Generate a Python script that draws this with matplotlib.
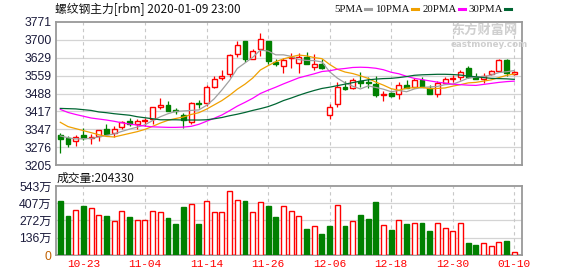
import matplotlib
matplotlib.use("Agg")
import matplotlib.pyplot as plt
import numpy as np

# trading days shown on the chart
dates = ['10-18', '10-21', '10-22', '10-23', '10-24', '10-25', '10-28', '10-29', '10-30', '10-31',
         '11-01', '11-04', '11-05', '11-06', '11-07', '11-08', '11-11', '11-12', '11-13', '11-14',
         '11-15', '11-18', '11-19', '11-20', '11-21', '11-22', '11-25', '11-26', '11-27', '11-28',
         '11-29', '12-02', '12-03', '12-04', '12-05', '12-06', '12-09', '12-10', '12-11', '12-12',
         '12-13', '12-16', '12-17', '12-18', '12-19', '12-20', '12-23', '12-24', '12-25', '12-26',
         '12-27', '12-30', '12-31', '01-02', '01-03', '01-06', '01-07', '01-08', '01-09', '01-10']

opens = [3322, 3310, 3299, 3324, 3310, 3321, 3347, 3333, 3354, 3379,
         3366, 3378, 3387, 3433, 3442, 3422, 3403, 3376, 3449, 3449,
         3515, 3549, 3564, 3643, 3696, 3626, 3663, 3696, 3611, 3597,
         3627, 3607, 3634, 3591, 3605, 3401, 3445, 3515, 3508, 3539,
         3535, 3526, 3483, 3490, 3488, 3522, 3515, 3541, 3508, 3486,
         3531, 3545, 3555, 3588, 3552, 3544, 3564, 3578, 3621, 3564]
highs = [3330, 3320, 3322, 3350, 3326, 3342, 3367, 3359, 3379, 3391,
         3388, 3391, 3433, 3470, 3458, 3429, 3410, 3454, 3462, 3522,
         3557, 3581, 3646, 3696, 3696, 3663, 3726, 3696, 3623, 3627,
         3647, 3647, 3651, 3644, 3623, 3445, 3535, 3539, 3548, 3572,
         3552, 3557, 3498, 3495, 3532, 3541, 3548, 3555, 3522, 3537,
         3555, 3561, 3581, 3597, 3568, 3568, 3581, 3625, 3625, 3577]
lows = [3254, 3278, 3282, 3304, 3288, 3301, 3321, 3317, 3346, 3361,
        3346, 3359, 3369, 3425, 3420, 3407, 3350, 3366, 3429, 3438,
        3511, 3541, 3552, 3631, 3614, 3623, 3638, 3606, 3595, 3568,
        3590, 3570, 3603, 3581, 3586, 3387, 3436, 3500, 3506, 3515,
        3511, 3475, 3458, 3474, 3466, 3508, 3508, 3515, 3486, 3473,
        3528, 3535, 3541, 3548, 3544, 3528, 3561, 3574, 3557, 3561]
closes = [3309, 3289, 3314, 3310, 3317, 3342, 3328, 3347, 3374, 3368,
          3378, 3384, 3433, 3441, 3420, 3418, 3383, 3449, 3445, 3512,
          3547, 3556, 3639, 3680, 3624, 3657, 3702, 3617, 3606, 3620,
          3631, 3634, 3603, 3605, 3590, 3436, 3512, 3507, 3540, 3531,
          3529, 3483, 3486, 3477, 3520, 3508, 3541, 3515, 3486, 3531,
          3544, 3548, 3572, 3552, 3547, 3557, 3577, 3620, 3568, 3572]

ma5 = [3320, 3313, 3308, 3309, 3310, 3316, 3322, 3328, 3338, 3347,
       3355, 3364, 3381, 3396, 3408, 3417, 3419, 3421, 3423, 3441,
       3467, 3502, 3540, 3587, 3609, 3631, 3660, 3656, 3641, 3641,
       3635, 3622, 3619, 3618, 3613, 3574, 3549, 3530, 3517, 3506,
       3518, 3512, 3505, 3495, 3500, 3495, 3506, 3512, 3514, 3516,
       3523, 3525, 3536, 3549, 3553, 3555, 3561, 3571, 3574, 3579]
ma10 = [3374, 3357, 3349, 3341, 3333, 3325, 3318, 3316, 3323, 3330,
        3337, 3346, 3358, 3371, 3382, 3389, 3395, 3405, 3412, 3426,
        3443, 3460, 3481, 3505, 3525, 3549, 3581, 3598, 3614, 3625,
        3633, 3640, 3637, 3630, 3626, 3603, 3584, 3573, 3567, 3558,
        3548, 3533, 3521, 3507, 3501, 3509, 3511, 3512, 3507, 3508,
        3510, 3517, 3523, 3530, 3532, 3537, 3542, 3551, 3560, 3565]
ma20 = [3425, 3413, 3405, 3398, 3391, 3387, 3383, 3378, 3372, 3367,
        3363, 3359, 3356, 3355, 3354, 3354, 3355, 3358, 3366, 3378,
        3390, 3403, 3420, 3438, 3453, 3469, 3488, 3501, 3513, 3526,
        3538, 3550, 3558, 3566, 3575, 3578, 3584, 3587, 3591, 3592,
        3591, 3588, 3582, 3572, 3566, 3556, 3548, 3543, 3538, 3533,
        3529, 3525, 3523, 3521, 3520, 3524, 3528, 3532, 3535, 3537]
ma30 = [3429, 3428, 3427, 3424, 3421, 3415, 3412, 3408, 3405, 3402,
        3396, 3392, 3388, 3384, 3384, 3384, 3383, 3383, 3383, 3384,
        3388, 3393, 3400, 3406, 3413, 3421, 3428, 3436, 3447, 3460,
        3470, 3481, 3491, 3500, 3508, 3513, 3519, 3525, 3531, 3537,
        3542, 3545, 3547, 3548, 3551, 3555, 3560, 3562, 3563, 3564,
        3564, 3563, 3561, 3557, 3554, 3551, 3548, 3547, 3546, 3544]

# volume in units of 万 (10,000 lots)
volume = [425, 307, 351, 386, 367, 312, 307, 265, 344, 299,
          273, 273, 344, 336, 291, 244, 378, 399, 244, 422,
          336, 336, 501, 430, 425, 336, 414, 386, 299, 383,
          344, 304, 205, 226, 165, 228, 391, 228, 265, 315,
          283, 417, 233, 197, 273, 244, 249, 252, 189, 249,
          210, 186, 249, 94, 79, 92, 68, 100, 110, 20.433]

price_ticks = [3205, 3276, 3347, 3417, 3488, 3559, 3629, 3700, 3771]
vol_ticks = [0, 136, 272, 407, 543]
tick_idx = [3, 11, 19, 27, 35, 43, 51, 59]

RED = '#ff0000'
GREEN = '#008000'
GRID = '#d4d4d4'
FRAME = '#999999'
LABEL = '#1c1c3c'

W, H = 578, 276
fig = plt.figure(figsize=(W / 100, H / 100), dpi=100)
fig.patch.set_facecolor('white')

def rect(l, t, r, b):
    return [l / W, 1 - b / H, (r - l) / W, (b - t) / H]

ax = fig.add_axes(rect(56, 22, 522, 165))
axv = fig.add_axes(rect(56, 186, 522, 255))

x = np.arange(len(closes))
o = np.array(opens); c = np.array(closes)
up = c >= o
vol_up = np.concatenate([[up[0]], c[1:] > c[:-1]])

# price panel
for i in x:
    col = RED if up[i] else GREEN
    ax.vlines(i, lows[i], highs[i], color=col, lw=0.9, zorder=3)
    b0 = min(o[i], c[i]); hgt = max(abs(c[i] - o[i]), 2.5)
    ax.bar(i, hgt, bottom=b0, width=0.64, facecolor='white' if up[i] else GREEN,
           edgecolor=col, linewidth=1.0, zorder=4)

ax.plot(x, ma5, color='#a0a0a0', lw=0.9, zorder=5)
ax.plot(x, ma10, color='#f0a000', lw=0.9, zorder=5)
ax.plot(x, ma20, color='#ff00ff', lw=0.9, zorder=5)
ax.plot(x, ma30, color='#006633', lw=0.9, zorder=5)

ax.set_ylim(price_ticks[0], price_ticks[-1])
ax.set_yticks(price_ticks)
ax.set_yticklabels([str(t) for t in price_ticks])

# volume panel
for i in x:
    if vol_up[i]:
        axv.bar(i, volume[i], width=0.64, facecolor='white', edgecolor=RED, linewidth=1.0, zorder=3)
    else:
        axv.bar(i, volume[i], width=0.64, facecolor=GREEN, edgecolor=GREEN, linewidth=1.0, zorder=3)
axv.set_ylim(0, vol_ticks[-1])
axv.set_yticks(vol_ticks)
axv.set_yticklabels(['0'] + ['%d万' % t for t in vol_ticks[1:]],
                    family=['Liberation Sans', 'Noto Sans CJK SC'])

for a in (ax, axv):
    a.set_xlim(-0.56, 60.0)
    a.set_xticks(tick_idx)
    a.set_facecolor('white')
    for t in a.get_yticks()[1:-1]:
        a.axhline(t, color=GRID, lw=0.9, zorder=1)
    for t in tick_idx:
        a.axvline(t, color='#c8c8c8', lw=0.8, ls=(0, (3, 3)), zorder=1)
    for s in a.spines.values():
        s.set_color(FRAME)
        s.set_linewidth(1.3)
    a.tick_params(length=0, pad=3, labelsize=8.8, labelcolor=LABEL)

ax.set_xticklabels([])
axv.set_xticklabels([dates[i] for i in tick_idx], color=RED, family='Liberation Mono', fontsize=8)
axv.get_yticklabels()[0].set_color('#c06000')
for lab in ax.get_yticklabels():
    lab.set_family('Liberation Sans')

# texts
def ftext(px, py, s, **kw):
    fig.text(px / W, 1 - py / H, s, va='center', **kw)

ftext(55, 9, '螺纹钢主力[rbm] 2020-01-09 23:00', fontsize=8.5, color='#111111',
      family=['Noto Sans CJK SC', 'DejaVu Sans'])
ftext(57, 178, '成交量:204330', fontsize=8.5, color='#111111',
      family=['Noto Sans CJK SC', 'DejaVu Sans'])

# legend: name, colour, x of the short colour dash
legend = [('5PMA', '#a0a0a0', 365), ('10PMA', '#f0a000', 412),
          ('20PMA', '#ff00ff', 459), ('30PMA', '#006633', 505)]
for name, col, px in legend:
    ftext(px - 2, 9, name, fontsize=7.8, color='#111111', family='Liberation Serif', ha='right')
    fig.add_artist(plt.Line2D([px / W, (px + 6) / W], [1 - 9 / H, 1 - 9 / H],
                              color=col, lw=2.2))

ftext(451, 30, '东方财富网', fontsize=9.5, color='#cfcfcf', weight='bold',
      family=['Noto Sans CJK SC'])
ftext(451, 44.5, 'eastmoney.com', fontsize=6.3, color='#cfcfcf', weight='bold',
      family='DejaVu Sans')

fig.savefig('out.png', dpi=100, facecolor='white')
